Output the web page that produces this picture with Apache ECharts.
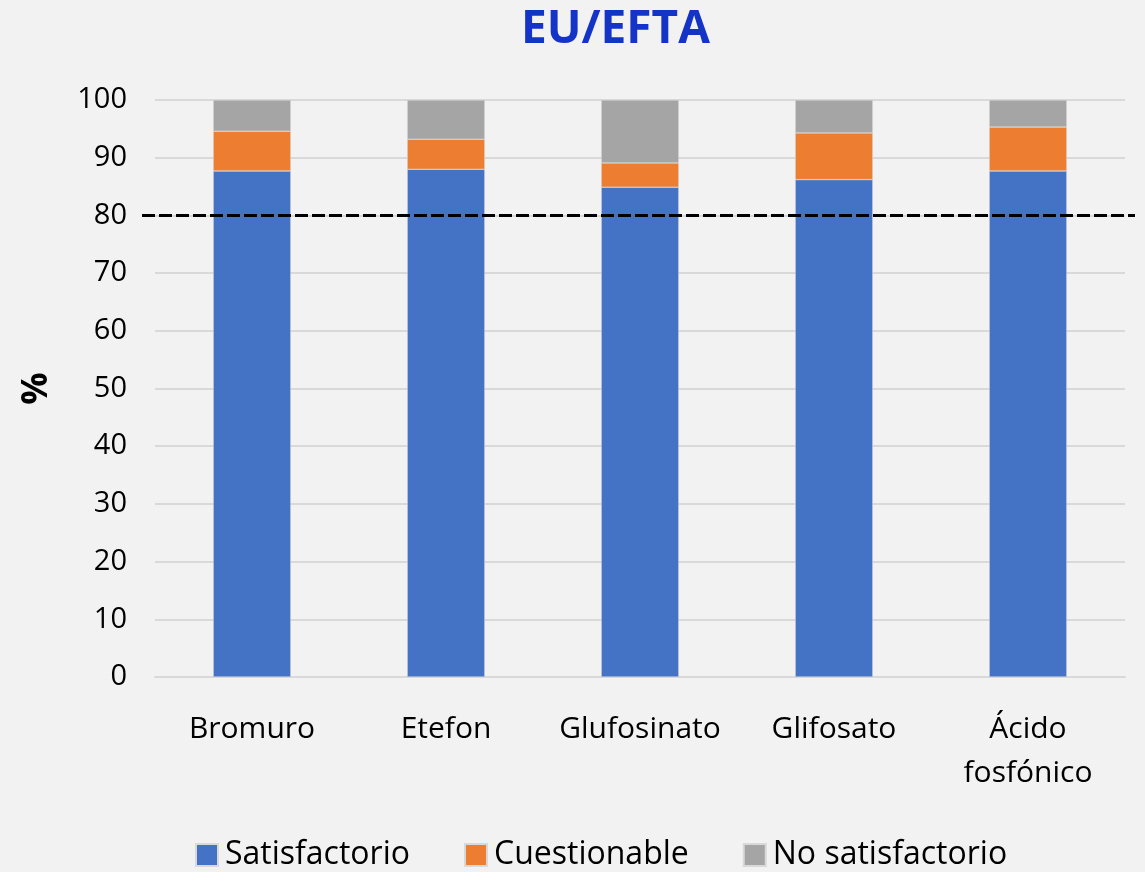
<!DOCTYPE html>
<html>
<head>
<meta charset="utf-8">
<script src="https://cdn.jsdelivr.net/npm/echarts@6/dist/echarts.min.js"></script>
<style>
  html, body { margin: 0; padding: 0; background: #f2f2f2; }
  #chart { width: 1145px; height: 872px; }
</style>
</head>
<body>
<div id="chart"></div>
<script>
// Data
const categories = ['Bromuro', 'Etefon', 'Glufosinato', 'Glifosato', 'Ácido\nfosfónico'];
const satisfactorio = [87.7, 88.0, 84.9, 86.2, 87.7];
const cuestionable = [6.9, 5.2, 4.2, 8.1, 7.6];
const noSatisfactorio = [5.4, 6.8, 10.9, 5.7, 4.7];
const threshold = 80;

const font = '"Open Sans", "Noto Sans", sans-serif';

const chart = echarts.init(document.getElementById('chart'));

// bar series helper
function barSeries(name, data, color) {
    return {
        name: name,
        type: 'bar',
        stack: 'total',
        barWidth: '40%',
        data: data,
        itemStyle: { color: color, borderColor: '#d9d9d9', borderWidth: 0.5 },
        xAxisIndex: 0,
        yAxisIndex: 0
    };
}

chart.setOption({
    backgroundColor: '#f2f2f2',
    animation: false,
    textStyle: { fontFamily: font },
    title: {
        text: 'EU/EFTA',
        left: 516,
        top: 2,
        textStyle: { color: '#1434c8', fontSize: 46, fontWeight: 'bold', fontFamily: font }
    },
    legend: {
        bottom: -4,
        left: 190,
        itemWidth: 22,
        itemHeight: 22,
        itemGap: 54,
        icon: 'rect',
        textStyle: { fontSize: 32, color: '#000', fontFamily: font, padding: [0, 0, 0, 2] },
        data: ['Satisfactorio', 'Cuestionable', 'No satisfactorio']
    },
    grid: [
        { left: 155, right: 20, top: 100, height: 577 },
        { left: 142, right: 10, top: 100, height: 577 }
    ],
    xAxis: [
        {
            type: 'category',
            gridIndex: 0,
            data: categories,
            axisLine: { lineStyle: { color: '#d9d9d9', width: 2 } },
            axisTick: { show: false },
            axisLabel: { interval: 0, fontSize: 30, color: '#000', margin: 30, lineHeight: 44, fontFamily: font }
        },
        {
            type: 'value',
            gridIndex: 1,
            min: 0,
            max: 1,
            show: false
        }
    ],
    yAxis: [
        {
            type: 'value',
            gridIndex: 0,
            min: 0,
            max: 100,
            interval: 10,
            name: '%',
            nameLocation: 'middle',
            nameGap: 100,
            nameRotate: 90,
            nameTextStyle: { fontSize: 36, fontWeight: 'bold', color: '#000', fontFamily: font },
            axisLine: { show: false },
            axisTick: { show: false },
            axisLabel: { fontSize: 29, color: '#000', margin: 28, fontFamily: font },
            splitLine: { lineStyle: { color: '#d9d9d9', width: 2 } }
        },
        {
            type: 'value',
            gridIndex: 1,
            min: 0,
            max: 100,
            show: false
        }
    ],
    series: [
        barSeries('Satisfactorio', satisfactorio, '#4472c4'),
        barSeries('Cuestionable', cuestionable, '#ed7d31'),
        barSeries('No satisfactorio', noSatisfactorio, '#a5a5a5'),
        {
            name: 'Umbral',
            type: 'line',
            xAxisIndex: 1,
            yAxisIndex: 1,
            data: [[0, threshold], [1, threshold]],
            symbol: 'none',
            lineStyle: { color: '#000', width: 3, type: [13, 4] },
            z: 5
        }
    ]
});

window.addEventListener('resize', function(){
    chart.resize();
});
</script>
</body>
</html>
